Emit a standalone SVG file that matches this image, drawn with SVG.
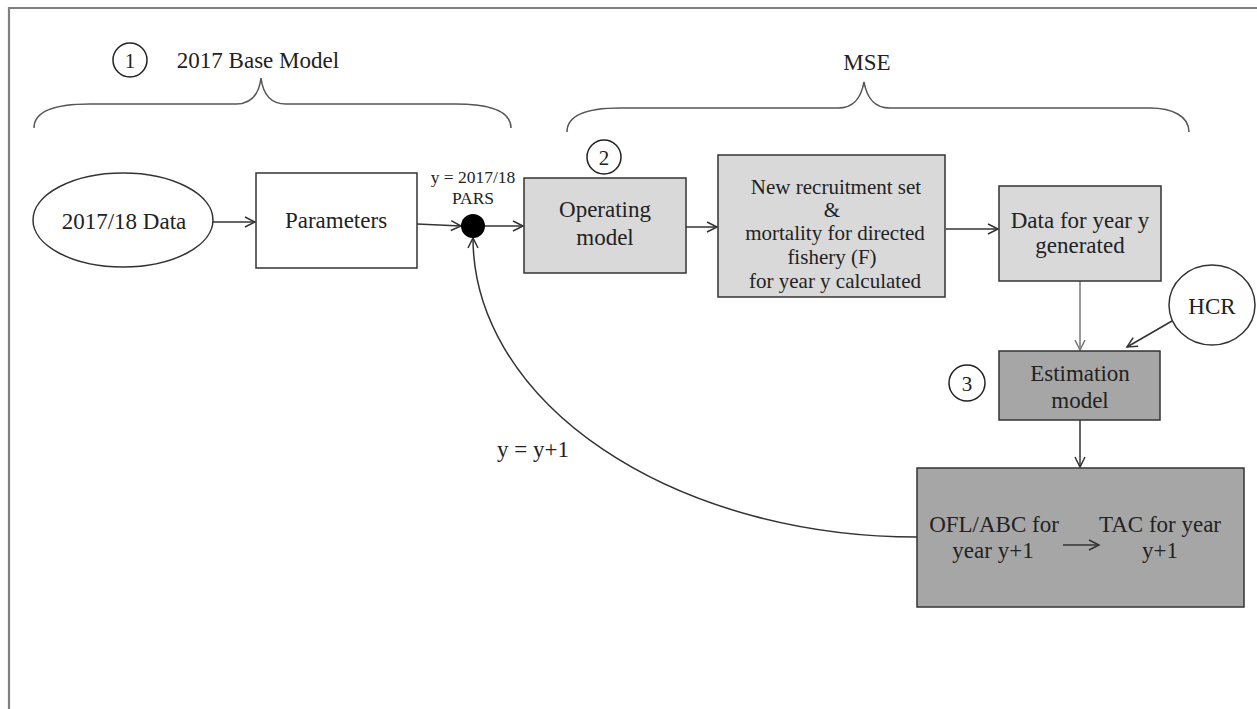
<svg xmlns="http://www.w3.org/2000/svg" width="1257" height="709" viewBox="0 0 1257 709">
<style>
text{font-family:"Liberation Serif","Times New Roman",serif;fill:#222;text-anchor:middle}
.t23{font-size:23px}
.t21{font-size:21px}
.t17{font-size:17.5px}
.box{stroke:#333;stroke-width:1.5}
.light{fill:#d9d9d9}
.dark{fill:#a6a6a6}
.num{fill:#fff;stroke:#222;stroke-width:1.5}
.brace{fill:none;stroke:#555;stroke-width:1.5}
.conn{fill:none;stroke:#333;stroke-width:1.5;marker-end:url(#arr)}
</style>
<defs>
<marker id="arr" markerWidth="14" markerHeight="14" refX="12" refY="7" orient="auto" markerUnits="userSpaceOnUse">
<path d="M2,2 L12,7 L2,12" fill="none" stroke="#333" stroke-width="1.5"/>
</marker>
<marker id="arrg" markerWidth="14" markerHeight="14" refX="12" refY="7" orient="auto" markerUnits="userSpaceOnUse">
<path d="M2,2 L12,7 L2,12" fill="none" stroke="#777" stroke-width="1.5"/>
</marker>
</defs>
<rect width="1257" height="709" fill="#fff"/>
<g id="frame" stroke="#808080" stroke-width="2.2" fill="none">
<line x1="8" y1="8" x2="1257" y2="8"/>
<line x1="9" y1="7" x2="9" y2="709"/>
</g>
<g id="base-model-label">
<circle class="num" cx="130" cy="60" r="17"/>
<text class="t21" x="130" y="68">1</text>
<text class="t23" x="258" y="68">2017 Base Model</text>
<path class="brace" d="M34,128 C34,112 52,104 90,104 L236,104 C252,104 259,94 261,78 C263,94 270,104 286,104 L455,104 C493,104 511,112 511,128"/>
</g>
<g id="mse-label">
<text class="t23" x="867" y="70">MSE</text>
<path class="brace" d="M567,132 C567,116 585,108 620,108 L838,108 C854,108 861,98 864,82 C867,98 874,108 890,108 L1150,108 C1172,108 1189,116 1189,132"/>
</g>
<g id="connectors">
<line class="conn" x1="213" y1="222" x2="255" y2="222"/>
<line class="conn" x1="417" y1="224" x2="461" y2="226"/>
<line class="conn" x1="485" y1="226" x2="523" y2="226"/>
<line class="conn" x1="686" y1="227" x2="717" y2="227"/>
<line class="conn" x1="946" y1="229" x2="998" y2="229"/>
<line x1="1080" y1="281" x2="1080" y2="350" fill="none" stroke="#777" stroke-width="1.5" marker-end="url(#arrg)"/>
<line class="conn" x1="1172" y1="321" x2="1127" y2="347"/>
<line class="conn" x1="1080" y1="420" x2="1080" y2="467"/>
<path class="conn" d="M917,537 A444,299 0 0 1 473,238"/>
<text class="t23" x="533" y="457">y = y+1</text>
</g>
<g id="data-2017">
<ellipse cx="123" cy="220" rx="90" ry="47" fill="#fff" class="box"/>
<text class="t23" x="124" y="229">2017/18 Data</text>
</g>
<g id="parameters">
<rect x="256" y="173" width="161" height="95" fill="#fff" class="box"/>
<text class="t23" x="336" y="228">Parameters</text>
</g>
<g id="pars-point">
<circle cx="473" cy="226" r="12" fill="#000"/>
<text class="t17" x="473" y="183">y = 2017/18</text>
<text class="t17" x="473" y="204">PARS</text>
</g>
<g id="operating-model">
<rect x="524" y="178" width="162" height="95" class="box light"/>
<text class="t23" x="605" y="217">Operating</text>
<text class="t23" x="605" y="245">model</text>
<circle class="num" cx="604" cy="157" r="17"/>
<text class="t21" x="604" y="165">2</text>
</g>
<g id="recruitment">
<rect x="718" y="155" width="227" height="142" class="box light"/>
<text class="t21" x="836" y="194">New recruitment set</text>
<text class="t21" x="832" y="217">&amp;</text>
<text class="t21" x="835" y="240">mortality for directed</text>
<text class="t21" x="832" y="264">fishery (F)</text>
<text class="t21" x="835" y="288">for year y calculated</text>
</g>
<g id="data-year">
<rect x="999" y="186" width="162" height="95" class="box light"/>
<text class="t23" x="1080" y="228">Data for year y</text>
<text class="t23" x="1080" y="253">generated</text>
</g>
<g id="hcr">
<ellipse cx="1212" cy="305" rx="43" ry="40" fill="#fff" class="box"/>
<text class="t23" x="1212" y="314">HCR</text>
</g>
<g id="estimation-model">
<rect x="999" y="351" width="161" height="69" class="box dark"/>
<text class="t23" x="1080" y="381">Estimation</text>
<text class="t23" x="1080" y="408">model</text>
<circle class="num" cx="967" cy="383" r="18"/>
<text class="t21" x="967" y="391">3</text>
</g>
<g id="tac">
<rect x="917" y="468" width="327" height="139" class="box dark"/>
<text class="t23" x="994" y="532">OFL/ABC for</text>
<text class="t23" x="993" y="558">year y+1</text>
<text class="t23" x="1160" y="532">TAC for year</text>
<text class="t23" x="1160" y="558">y+1</text>
<line class="conn" x1="1063" y1="545" x2="1099" y2="545"/>
</g>
</svg>
